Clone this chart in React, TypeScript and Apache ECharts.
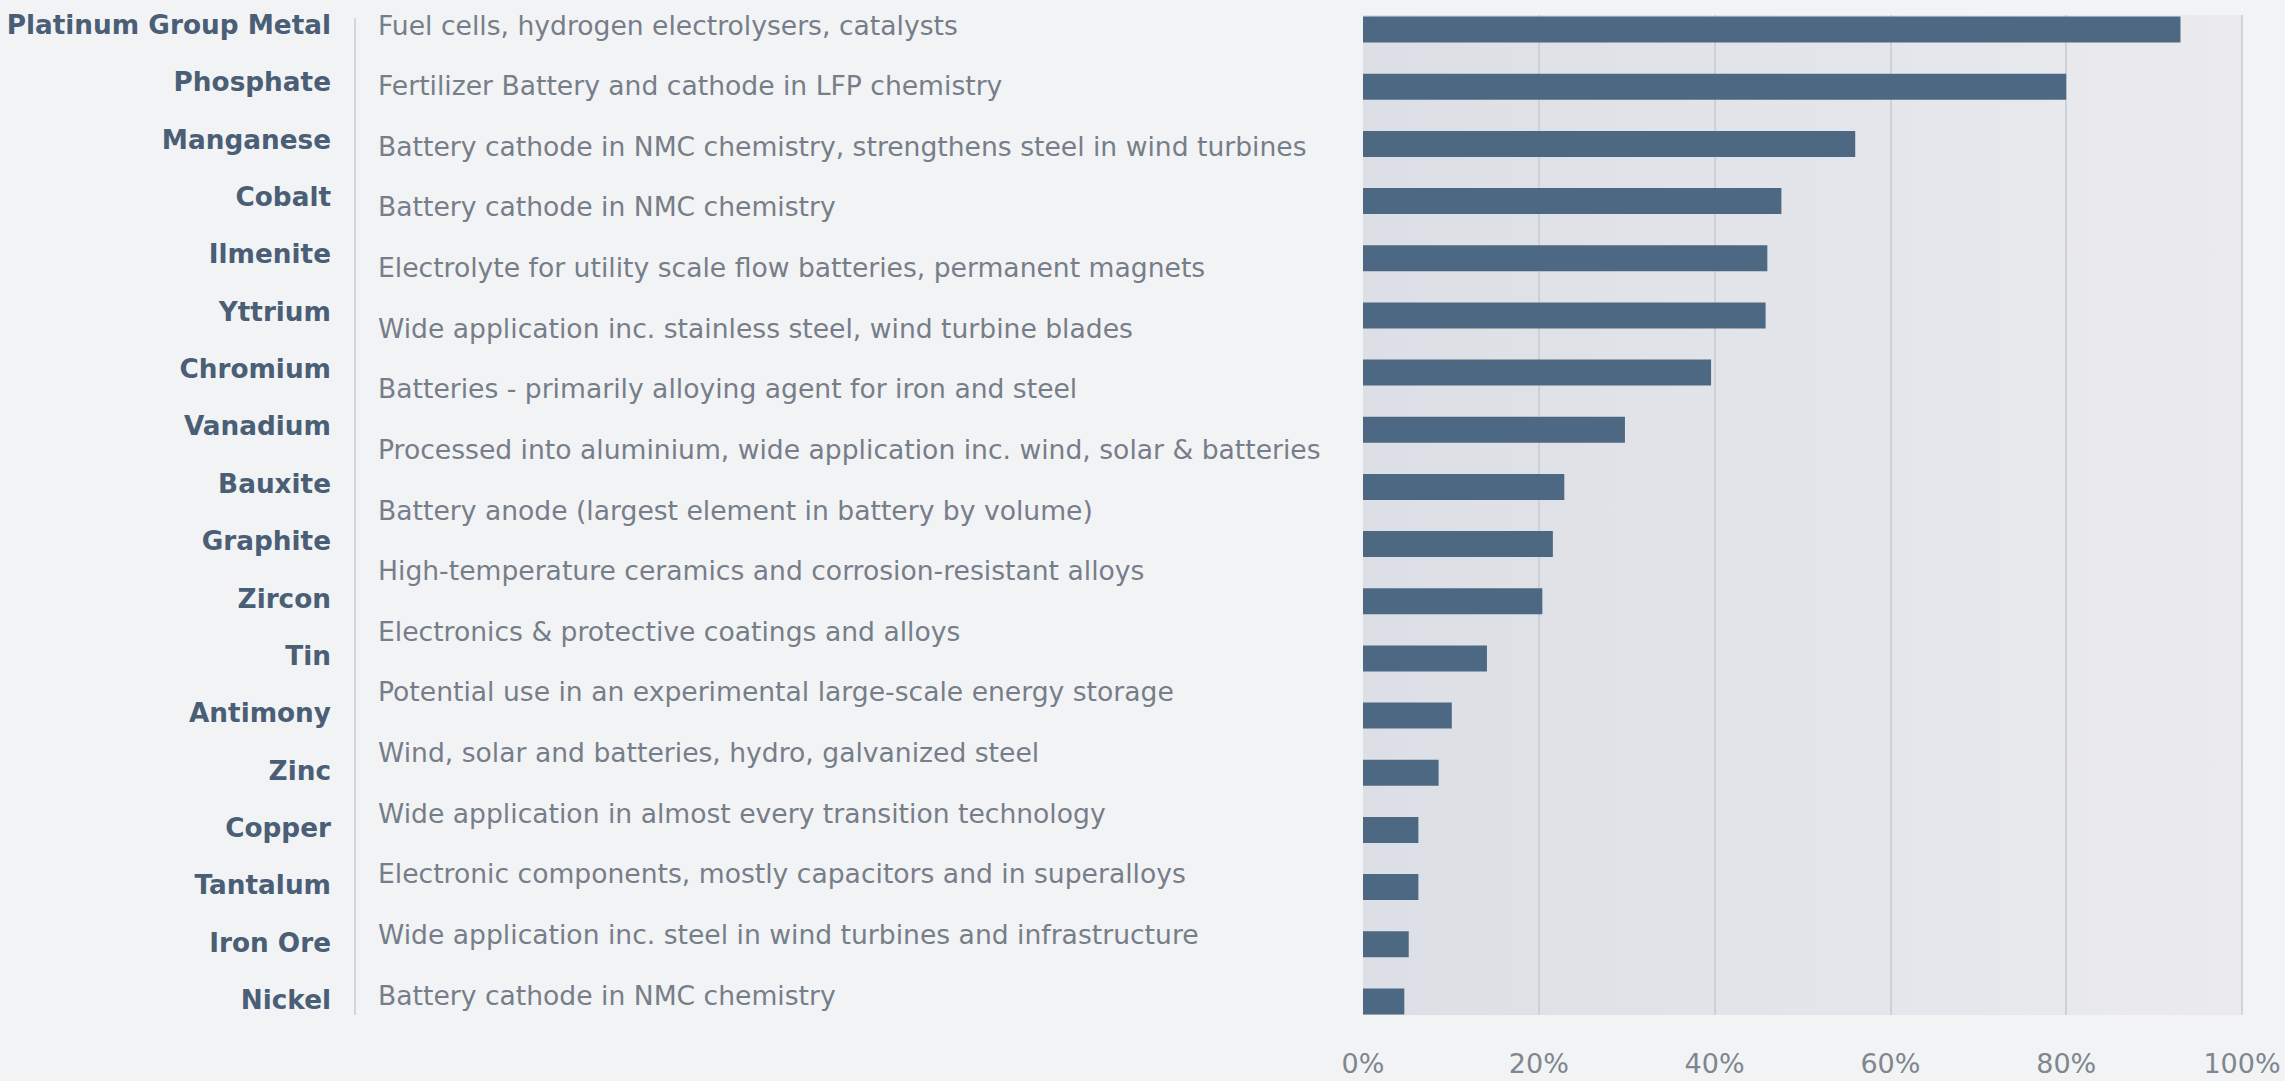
import React, { useEffect, useRef } from "react";
import * as echarts from "echarts";

const metals = [
  "Platinum Group Metal",
  "Phosphate",
  "Manganese",
  "Cobalt",
  "Ilmenite",
  "Yttrium",
  "Chromium",
  "Vanadium",
  "Bauxite",
  "Graphite",
  "Zircon",
  "Tin",
  "Antimony",
  "Zinc",
  "Copper",
  "Tantalum",
  "Iron Ore",
  "Nickel",
];

const uses = [
  "Fuel cells, hydrogen electrolysers, catalysts",
  "Fertilizer Battery and cathode in LFP chemistry",
  "Battery cathode in NMC chemistry, strengthens steel in wind turbines",
  "Battery cathode in NMC chemistry",
  "Electrolyte for utility scale flow batteries, permanent magnets",
  "Wide application inc. stainless steel, wind turbine blades",
  "Batteries - primarily alloying agent for iron and steel",
  "Processed into aluminium, wide application inc. wind, solar & batteries",
  "Battery anode (largest element in battery by volume)",
  "High-temperature ceramics and corrosion-resistant alloys",
  "Electronics & protective coatings and alloys",
  "Potential use in an experimental large-scale energy storage",
  "Wind, solar and batteries, hydro, galvanized steel",
  "Wide application in almost every transition technology",
  "Electronic components, mostly capacitors and in superalloys",
  "Wide application inc. steel in wind turbines and infrastructure",
  "Battery cathode in NMC chemistry",
];

const shares = [93, 80, 56, 47.6, 46, 45.8, 39.6, 29.8, 22.9, 21.6, 20.4, 14.1, 10.1, 8.6, 6.3, 6.3, 5.2, 4.7];

const FONT = "DejaVu Sans";

export default function App() {
  const ref = useRef<HTMLDivElement>(null);

  useEffect(() => {
    document.body.style.margin = "0";
    if (!ref.current) return;
    const chart = echarts.init(ref.current, undefined, { renderer: "svg" });
    chart.setOption({
      animation: false,
      backgroundColor: "#f2f3f5",
      textStyle: { fontFamily: FONT },
      grid: [
        {
          left: 1363,
          right: 43,
          top: 15,
          bottom: 66,
          show: true,
          borderWidth: 0,
          backgroundColor: {
            type: "linear",
            x: 0,
            y: 0,
            x2: 1,
            y2: 0,
            colorStops: [
              { offset: 0, color: "#dcdfe5" },
              { offset: 1, color: "#ebebef" },
            ],
          },
        },
        { left: 1363, right: 43, top: 1, bottom: 51 },
        { left: 338, width: 10, top: 25, bottom: 81 },
        { left: 355, width: 10, top: 25, bottom: 86 },
      ],
      xAxis: [
        {
          gridIndex: 0,
          type: "value",
          min: 0,
          max: 100,
          interval: 20,
          axisLine: { show: false },
          axisTick: { show: false },
          axisLabel: {
            formatter: "{value}%",
            margin: 35,
            fontSize: 27,
            color: "#80868f",
            fontFamily: FONT,
          },
          splitLine: {
            show: true,
            showMinLine: false,
            lineStyle: { color: "#c8cad0", width: 1.5 },
          },
        },
        { gridIndex: 1, type: "value", min: 0, max: 100, show: false },
        { gridIndex: 2, type: "value", show: false },
        { gridIndex: 3, type: "value", show: false },
      ],
      yAxis: [
        { gridIndex: 0, type: "category", data: metals, inverse: true, show: false },
        { gridIndex: 1, type: "category", data: metals, inverse: true, show: false },
        {
          gridIndex: 2,
          type: "category",
          data: metals,
          inverse: true,
          boundaryGap: false,
          axisLine: { show: false },
          axisTick: { show: false },
          splitLine: { show: false },
          axisLabel: {
            interval: 0,
            margin: 7,
            fontSize: 26.3,
            fontWeight: "bold",
            color: "#4a5e75",
            fontFamily: FONT,
          },
        },
        {
          gridIndex: 3,
          type: "category",
          data: uses,
          inverse: true,
          boundaryGap: false,
          axisLine: { show: false },
          axisTick: { show: false },
          splitLine: { show: false },
          axisLabel: {
            interval: 0,
            inside: true,
            margin: 23,
            fontSize: 26.6,
            color: "#767e89",
            fontFamily: FONT,
          },
        },
      ],
      graphic: [
        {
          type: "line",
          shape: { x1: 355, y1: 18, x2: 355, y2: 1015 },
          style: { stroke: "#c9cdd3", lineWidth: 1.5 },
          silent: true,
        },
      ],
      series: [
        {
          type: "bar",
          xAxisIndex: 1,
          yAxisIndex: 1,
          data: shares,
          barWidth: 26,
          itemStyle: { color: "#4c6883" },
        },
      ],
    });
    return () => chart.dispose();
  }, []);

  return <div ref={ref} style={{ width: 2285, height: 1081, background: "#f2f3f5" }} />;
}
